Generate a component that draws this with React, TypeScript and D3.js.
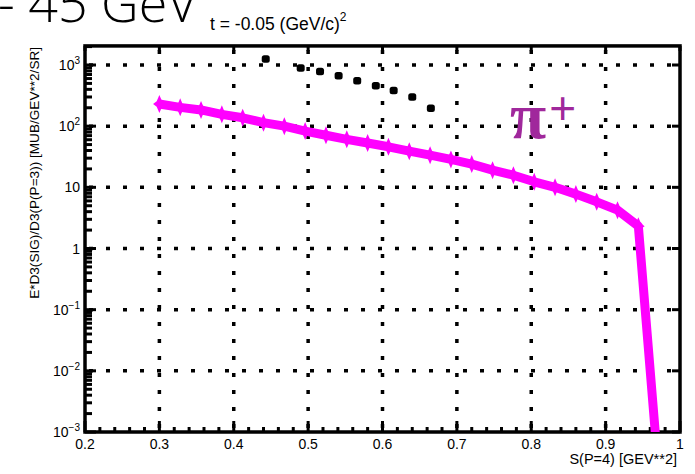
import React, { useRef, useEffect } from 'react';
import * as d3 from 'd3';

// pi+ curve (magenta)
const piX = [0.3, 0.328, 0.356, 0.384, 0.412, 0.44, 0.468, 0.496, 0.524, 0.552, 0.58, 0.608,
	0.636, 0.664, 0.692, 0.72, 0.748, 0.776, 0.804, 0.832, 0.86, 0.888, 0.916, 0.944, 0.967];
const piY = [230, 203, 184, 156, 137, 114, 100, 83, 71, 61, 53, 46,
	39, 33.6, 28.6, 24, 19.1, 15.8, 12.3, 10, 7.75, 5.8, 4.24, 2.32, 0.0009];

// black data points
const dataX = [0.443, 0.49, 0.516, 0.541, 0.566, 0.591, 0.615, 0.64, 0.665];
const dataY = [1240, 883, 776, 661, 547, 453, 379, 296, 195];

const xTicks = [0.2, 0.3, 0.4, 0.5, 0.6, 0.7, 0.8, 0.9, 1];
const xTickLabels = ['0.2', '0.3', '0.4', '0.5', '0.6', '0.7', '0.8', '0.9', '1'];
const yTicks = [1e-3, 1e-2, 1e-1, 1, 10, 100, 1000];
const yTickBase = ['10', '10', '10', '1', '10', '10', '10'];
const yTickExp = ['\u22123', '\u22122', '\u22121', '', '', '2', '3'];

const FONT = '"Liberation Sans", Arial, Helvetica, sans-serif';

// 4-pointed star marker
const star4 = {
	draw(context, size) {
		const h = Math.sqrt(size);
		const w = h * 0.7;
		const k = h * 0.3;
		context.moveTo(0, -h);
		context.lineTo(k, -k);
		context.lineTo(w, 0);
		context.lineTo(k, k);
		context.lineTo(0, h);
		context.lineTo(-k, k);
		context.lineTo(-w, 0);
		context.lineTo(-k, -k);
		context.closePath();
	},
};

function App() {
	const svgRef = useRef(null);

	useEffect(() => {
		const svg = d3.select(svgRef.current);
		svg.selectAll('*').remove();

		const left = 85, right = 680, bottom = 432;
		const x = d3.scaleLinear().domain([0.2, 1]).range([left, right]);
		const y = d3.scaleLog().domain([1e-3, 1e3]).range([bottom, 65]);
		const top = y(2050);

		svg.append('defs').append('clipPath').attr('id', 'plotclip')
			.append('rect').attr('x', left).attr('y', top).attr('width', right - left).attr('height', bottom - top);

		// big header text, cut off at the top
		svg.append('text')
			.attr('x', -2).attr('y', 22)
			.style('font-family', '"Open Sans", "DejaVu Sans", sans-serif')
			.style('font-weight', 300)
			.style('font-size', '52px')
			.text('- 45 GeV');

		const title = svg.append('text')
			.attr('x', 210).attr('y', 30)
			.style('font-family', FONT).style('font-size', '17.5px')
			.text('t = -0.05 (GeV/c)');
		title.append('tspan').attr('dy', -9).style('font-size', '12px').text('2');

		// grid
		const grid = svg.append('g').attr('stroke', '#000').attr('stroke-width', 3.5)
			.attr('stroke-dasharray', '4 13');
		grid.selectAll('.hg').data(yTicks.slice(1)).join('line')
			.attr('x1', left + 4).attr('x2', right)
			.attr('y1', (d) => y(d)).attr('y2', (d) => y(d));
		grid.selectAll('.vg').data(xTicks.slice(1, -1)).join('line')
			.attr('y1', top + 4).attr('y2', bottom)
			.attr('x1', (d) => x(d)).attr('x2', (d) => x(d));

		// ticks
		const ticks = svg.append('g').attr('stroke', '#000').attr('stroke-width', 3);
		const minorY = [];
		for (let e = -3; e < 4; e++) for (let m = 2; m < 10; m++) {
			const v = m * Math.pow(10, e);
			if (v < 2050) minorY.push(v);
		}
		ticks.selectAll('.ym').data(minorY).join('line')
			.attr('x1', left).attr('x2', left + 7)
			.attr('y1', (d) => y(d)).attr('y2', (d) => y(d));
		ticks.selectAll('.yM').data(yTicks).join('line')
			.attr('x1', left).attr('x2', left + 11)
			.attr('y1', (d) => y(d)).attr('y2', (d) => y(d));
		ticks.selectAll('.yR').data(yTicks).join('line')
			.attr('x1', right).attr('x2', right - 8)
			.attr('y1', (d) => y(d)).attr('y2', (d) => y(d));
		const minorX = d3.range(0.22, 1, 0.02).filter((v) => Math.abs(v * 10 - Math.round(v * 10)) > 1e-6);
		ticks.selectAll('.xm').data(minorX).join('line')
			.attr('y1', bottom).attr('y2', bottom - 5)
			.attr('x1', (d) => x(d)).attr('x2', (d) => x(d));
		ticks.selectAll('.xM').data(xTicks).join('line')
			.attr('y1', bottom).attr('y2', bottom - 11)
			.attr('x1', (d) => x(d)).attr('x2', (d) => x(d));
		ticks.selectAll('.xT').data(xTicks).join('line')
			.attr('y1', top).attr('y2', top + 5)
			.attr('x1', (d) => x(d)).attr('x2', (d) => x(d));

		// frame
		svg.append('rect')
			.attr('x', left).attr('y', top).attr('width', right - left).attr('height', bottom - top)
			.attr('fill', 'none').attr('stroke', '#000').attr('stroke-width', 3.5);

		// tick labels
		svg.append('g').selectAll('text').data(xTicks).join('text')
			.attr('x', (d) => x(d)).attr('y', 449)
			.attr('text-anchor', 'middle')
			.style('font-family', FONT).style('font-size', '14px')
			.text((d, i) => xTickLabels[i]);

		const yl = svg.append('g').selectAll('text').data(yTicks).join('text')
			.attr('x', 80).attr('y', (d) => y(d) + 5)
			.attr('text-anchor', 'end')
			.style('font-family', FONT).style('font-size', '14px');
		yl.append('tspan').text((d, i) => yTickBase[i]);
		yl.append('tspan').attr('dy', -6).style('font-size', '10px').text((d, i) => yTickExp[i]);

		// axis titles
		svg.append('text')
			.attr('x', right - 3).attr('y', 464)
			.attr('text-anchor', 'end')
			.style('font-family', FONT).style('font-size', '14.5px')
			.text('S(P=4) [GEV**2]');
		svg.append('text')
			.attr('transform', `translate(39, ${top + 1}) rotate(-90)`)
			.attr('text-anchor', 'end')
			.style('font-family', FONT).style('font-size', '13.6px')
			.text('E*D3(SIG)/D3(P(P=3)) [MUB/GEV**2/SR]');

		// pi+ curve
		const plot = svg.append('g').attr('clip-path', 'url(#plotclip)');
		const pts = piX.map((v, i) => [v, piY[i]]);
		plot.append('path')
			.datum(pts)
			.attr('fill', 'none').attr('stroke', '#ff00ff').attr('stroke-width', 9)
			.attr('stroke-linejoin', 'round')
			.attr('d', d3.line().x((d) => x(d[0])).y((d) => y(d[1])));
		plot.selectAll('.star').data(pts.slice(0, -1)).join('path')
			.attr('fill', '#ff00ff')
			.attr('transform', (d) => `translate(${x(d[0])},${y(d[1])})`)
			.attr('d', d3.symbol().type(star4).size(81));

		// black points
		plot.selectAll('.dot').data(dataX).join('rect')
			.attr('x', (d) => x(d) - 4).attr('y', (d, i) => y(dataY[i]) - 4)
			.attr('width', 8).attr('height', 7.5).attr('rx', 2.5)
			.attr('fill', '#000');

		// pi+ label
		const lab = svg.append('text')
			.attr('x', 510).attr('y', 138)
			.attr('fill', '#a0289c');
		lab.append('tspan')
			.style('font-family', '"Liberation Serif", "DejaVu Serif", serif')
			.style('font-weight', 'bold').style('font-size', '66px')
			.text('\u03c0');
		lab.append('tspan')
			.attr('dx', 3).attr('dy', -14)
			.style('font-family', FONT).style('font-size', '46px')
			.text('+');
	}, []);

	return (
		<svg ref={svgRef} width={695} height={474}
			style={{ position: 'absolute', left: 0, top: 0, background: '#fff' }} />
	);
}

export default App;
